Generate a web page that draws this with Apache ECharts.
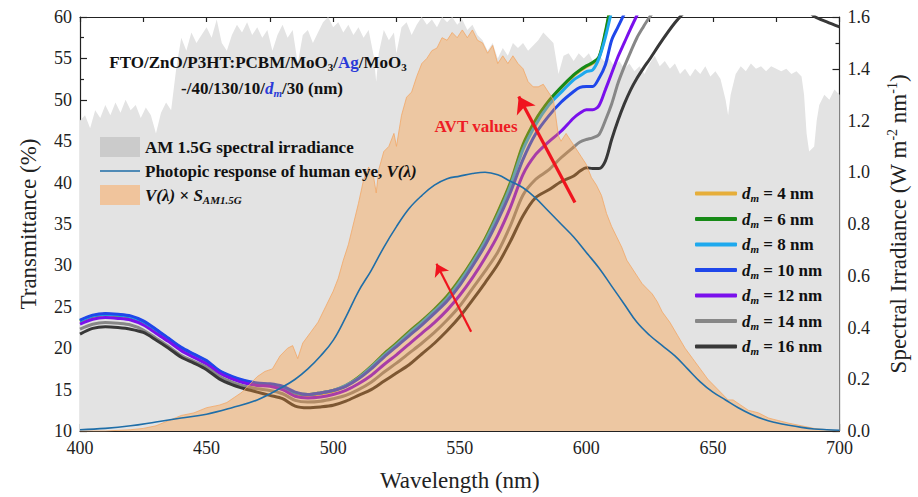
<!DOCTYPE html>
<html>
<head>
<meta charset="utf-8">
<script src="https://cdn.jsdelivr.net/npm/echarts@6/dist/echarts.min.js"></script>
<style>
html,body{margin:0;padding:0;background:#fff;}
#chart{width:918px;height:497px;}
</style>
</head>
<body>
<div id="chart"></div>
<script>
// ---------- DATA ----------
// AM 1.5G spectral irradiance (W m^-2 nm^-1), right axis
const lamS = [400,402,404,406,408,410,412,414,416,418,420,422,424,426,428,430,432,434,436,438,440,442,444,446,448,450,452,454,456,458,460,462,464,466,468,470,472,474,476,478,480,482,484,486,488,490,492,494,496,498,500,502,504,506,508,510,512,514,516,517,518,520,522,524,525,527,529,531,533,535,537,539,541,543,545,547,549,551,553,555,557,559,561,563,565,567,569,571,573,575,577,579,581,583,585,587,589,591,593,595,597,599,601,603,605,607,609,611,613,615,617,619,621,623,625,627,629,631,633,635,637,639,641,643,645,647,649,651,653,655,656,657,659,661,663,665,667,669,671,673,675,677,679,681,683,685,686,687,688,690,691,692,694,696,698,700];
const irradiance = [1.20,1.22,1.17,1.24,1.21,1.26,1.22,1.27,1.23,1.28,1.24,1.26,1.21,1.25,1.22,1.15,1.23,1.27,1.24,1.40,1.52,1.47,1.54,1.50,1.53,1.56,1.52,1.59,1.50,1.47,1.53,1.57,1.54,1.58,1.53,1.56,1.52,1.55,1.47,1.53,1.57,1.52,1.55,1.42,1.53,1.55,1.50,1.54,1.58,1.60,1.56,1.58,1.54,1.57,1.53,1.56,1.52,1.55,1.45,1.35,1.46,1.55,1.51,1.54,1.46,1.56,1.58,1.53,1.57,1.60,1.57,1.59,1.56,1.60,1.58,1.60,1.57,1.59,1.55,1.57,1.53,1.51,1.47,1.50,1.44,1.48,1.45,1.50,1.48,1.50,1.47,1.49,1.51,1.54,1.52,1.50,1.38,1.45,1.46,1.43,1.46,1.44,1.46,1.42,1.45,1.43,1.44,1.41,1.43,1.40,1.42,1.39,1.41,1.38,1.42,1.45,1.41,1.43,1.40,1.42,1.38,1.40,1.37,1.40,1.38,1.41,1.37,1.39,1.36,1.28,1.22,1.30,1.38,1.41,1.39,1.42,1.40,1.41,1.39,1.41,1.40,1.39,1.40,1.38,1.39,1.37,1.30,1.15,1.08,1.10,1.20,1.26,1.30,1.28,1.32,1.30];

// V(lambda) x S_AM1.5G, right axis
const lamVS = [400,410,420,425,430,435,440,445,450,455,458,461,464,467,470,473,476,479,482,484,486,488,491,494,497,500,502,504,506,508,510,512,514,516,517,518,520,522,524,525,527,529,531,533,535,537,539,541,543,545,547,549,551,553,555,557,559,561,563,565,567,569,571,573,575,577,579,581,583,585,587,589,590,592,594,596,598,600,602,604,606,608,610,612,614,616,618,620,622,624,626,628,630,633,636,639,642,645,648,651,654,656,658,661,664,668,672,676,680,685,690,695,700];
const vTimesS = [0.0,0.0,0.005,0.01,0.02,0.04,0.06,0.07,0.09,0.10,0.11,0.13,0.15,0.18,0.21,0.23,0.24,0.29,0.32,0.33,0.28,0.34,0.38,0.42,0.48,0.54,0.59,0.66,0.72,0.80,0.88,0.97,1.02,0.98,0.92,1.01,1.08,1.10,1.15,1.10,1.22,1.29,1.31,1.37,1.42,1.44,1.47,1.48,1.52,1.51,1.54,1.52,1.55,1.52,1.55,1.51,1.50,1.46,1.49,1.42,1.45,1.42,1.45,1.42,1.40,1.35,1.33,1.33,1.34,1.31,1.28,1.14,1.12,1.15,1.12,1.09,1.06,1.03,0.98,0.95,0.91,0.84,0.79,0.75,0.71,0.66,0.63,0.60,0.57,0.55,0.53,0.50,0.46,0.42,0.37,0.32,0.28,0.24,0.20,0.17,0.14,0.12,0.12,0.10,0.08,0.07,0.05,0.04,0.03,0.02,0.01,0.005,0.0];

// Photopic response V(lambda), right axis
const lamV = [400,410,420,430,440,450,460,470,480,485,490,495,500,505,510,515,520,525,530,535,540,545,550,555,560,565,570,575,580,585,590,595,600,605,610,615,620,625,630,635,640,645,650,655,660,665,670,675,680,685,690,695,700];
const photopic = [0.005,0.01,0.02,0.035,0.05,0.065,0.09,0.12,0.17,0.20,0.24,0.29,0.35,0.44,0.54,0.62,0.71,0.79,0.86,0.91,0.95,0.975,0.985,0.995,1.0,0.99,0.965,0.94,0.90,0.85,0.80,0.75,0.69,0.63,0.56,0.49,0.42,0.37,0.33,0.29,0.24,0.19,0.15,0.12,0.09,0.065,0.045,0.032,0.022,0.014,0.008,0.005,0.003];

// Transmittance (%) for each Ag thickness d_m, left axis
const lamT = [400,405,410,415,420,425,430,435,440,445,450,455,460,465,470,475,480,485,490,495,500,505,510,515,520,525,530,535,540,545,550,555,560,565,570,575,580,585,590,595,597.5,600,602.5,605,607.5,610,612.5,615,617.5,620,622.5,625,630,635,640,645,650,655,660,665,670,675,680,685,690,695,700];
const N = null;
const T4  = [23.2,23.8,24.0,23.9,23.7,23.1,22.1,21.0,19.9,19.1,18.3,17.1,16.4,15.9,15.6,15.5,15.2,14.5,14.3,14.5,14.8,15.4,16.4,17.7,19.2,20.5,21.9,23.2,24.6,26.2,28.2,30.5,33.1,36.3,39.9,44.4,47.4,49.7,51.4,52.9,53.5,54.0,54.4,55.1,58.0,61.8,64.8,N,N,N,N,N,N,N,N,N,N,N,N,N,N,N,N,N,N,N,N];
const T6  = [23.3,23.9,24.1,24.0,23.8,23.2,22.2,21.1,20.0,19.2,18.4,17.2,16.5,16.0,15.7,15.6,15.3,14.6,14.4,14.6,14.9,15.5,16.5,17.8,19.3,20.6,22.0,23.3,24.7,26.3,28.3,30.6,33.2,36.4,40.0,44.6,47.6,49.8,51.5,53.0,53.6,54.1,54.5,55.2,58.2,62.0,65.0,N,N,N,N,N,N,N,N,N,N,N,N,N,N,N,N,N,N,N,N];
const T8  = [23.3,23.9,24.1,24.0,23.8,23.2,22.2,21.1,20.0,19.2,18.4,17.2,16.5,16.0,15.7,15.6,15.3,14.6,14.4,14.6,14.9,15.5,16.4,17.7,19.1,20.4,21.8,23.1,24.5,26.0,28.0,30.3,32.9,36.0,39.6,44.0,47.0,49.3,50.9,52.4,52.9,53.4,53.6,55.0,57.5,60.7,63.5,N,N,N,N,N,N,N,N,N,N,N,N,N,N,N,N,N,N,N,N];
const T10 = [23.4,24.0,24.2,24.1,23.9,23.3,22.3,21.2,20.1,19.3,18.5,17.3,16.6,16.1,15.8,15.7,15.4,14.7,14.4,14.6,14.9,15.4,16.3,17.5,18.9,20.2,21.5,22.8,24.2,25.7,27.6,29.9,32.4,35.4,38.8,42.8,45.9,48.0,49.7,51.0,51.5,51.6,51.6,52.6,54.2,57.2,58.8,60.4,62.0,N,N,N,N,N,N,N,N,N,N,N,N,N,N,N,N,N,N];
const T12 = [22.9,23.5,23.7,23.6,23.4,22.8,21.8,20.8,19.7,18.9,18.1,17.0,16.3,15.8,15.5,15.4,15.0,14.2,14.0,14.1,14.4,14.9,15.7,16.7,18.0,19.2,20.5,21.8,23.1,24.6,26.4,28.5,30.9,33.6,37.0,41.0,43.4,44.9,46.2,47.8,48.4,48.8,48.8,49.3,51.2,53.2,55.2,56.9,58.6,60.2,61.8,N,N,N,N,N,N,N,N,N,N,N,N,N,N,N,N];
const T14 = [22.3,22.9,23.1,23.0,22.8,22.2,21.2,20.2,19.1,18.4,17.7,16.6,15.9,15.4,15.1,14.9,14.5,13.7,13.5,13.6,13.9,14.3,15.0,15.9,17.1,18.2,19.4,20.6,21.9,23.4,25.1,27.2,29.3,31.6,34.8,38.5,40.4,41.5,43.0,44.3,44.9,45.2,45.4,45.8,47.5,49.5,52.0,54.0,55.8,57.5,58.8,60.0,62.0,63.5,N,N,N,N,N,N,N,N,N,N,N,N,N];
const T16 = [21.7,22.4,22.6,22.5,22.3,21.9,21.0,20.0,18.9,18.2,17.4,16.3,15.6,15.1,14.7,14.3,13.9,13.0,12.8,12.9,13.1,13.6,14.3,15.0,16.0,17.0,18.0,19.3,20.6,22.1,23.8,25.8,27.9,30.1,32.9,36.0,38.2,39.1,40.1,40.8,41.4,41.8,41.7,41.7,42.6,45.2,47.5,49.5,51.2,52.6,53.8,54.9,57.2,59.3,61.0,62.5,63.5,64.2,64.4,64.3,64.0,63.5,62.7,61.6,60.1,59.4,58.8];

const thicknesses = [4, 6, 8, 10, 12, 14, 16];
const transSeries = [T4, T6, T8, T10, T12, T14, T16];
const transColors = ['#E6AE3A', '#178A17', '#1EA9EE', '#1F47EA', '#7A10EC', '#878787', '#383838'];

// Annotation arrows (data coordinates: wavelength, transmittance)
const arrowBig = [[595.5, 37.6], [573.3, 50.4]];
const arrowSmall = [[554.5, 22.0], [540.8, 30.2]];

// ---------- BUILD ----------
const pairs = (xs, ys) => xs.map((x, i) => [x, ys[i]]);
const SERIF = 'Liberation Serif';
const nameS = 'AM 1.5G spectral irradiance';
const nameV = 'Photopic response of human eye, V(λ)';
const nameVS = 'V(λ) × S_AM1.5G';
const dmName = d => 'd_m = ' + d + ' nm';
// line-shaped legend icon inside a 40x20 box
const lineIcon = 'path://M0,0L0.01,0M0,9.2L40,9.2L40,10.8L0,10.8ZM0,20L0.01,20';

const series = [];
series.push({
  name: nameS, type: 'line', xAxisIndex: 0, yAxisIndex: 1, z: 1,
  data: pairs(lamS, irradiance), symbol: 'none', showSymbol: false,
  lineStyle: {width: 0, color: '#e3e3e3'},
  itemStyle: {color: '#cbcbcb'},
  areaStyle: {color: '#e3e3e3', opacity: 1}
});
thicknesses.forEach((d, i) => {
  series.push({
    name: dmName(d), type: 'line', xAxisIndex: 0, yAxisIndex: 0, z: 2,
    data: pairs(lamT, transSeries[i]), symbol: 'none', showSymbol: false,
    smooth: 0.3, connectNulls: false,
    lineStyle: {width: 3, color: transColors[i]},
    itemStyle: {color: transColors[i]}
  });
});
series.push({
  name: nameVS, type: 'line', xAxisIndex: 0, yAxisIndex: 1, z: 3,
  data: pairs(lamVS, vTimesS), symbol: 'none', showSymbol: false,
  lineStyle: {width: 1, color: '#f2a766', opacity: 0.8},
  itemStyle: {color: '#f0c49c'},
  areaStyle: {color: '#ff9228', opacity: 0.35}
});
series.push({
  name: nameV, type: 'line', xAxisIndex: 0, yAxisIndex: 1, z: 4,
  data: pairs(lamV, photopic), symbol: 'none', showSymbol: false, smooth: 0.4,
  lineStyle: {width: 1.6, color: '#1f6ea8'},
  itemStyle: {color: '#1f6ea8'}
});
series.push({
  name: 'arrows', type: 'line', xAxisIndex: 0, yAxisIndex: 0, z: 5, data: [],
  markLine: {
    silent: true, animation: false, symbol: ['none', 'arrow'],
    label: {show: false},
    data: [
      [{coord: arrowBig[0], symbolSize: 16, lineStyle: {color: '#f0141e', width: 3.2, type: 'solid'}},
       {coord: arrowBig[1], symbolSize: 16}],
      [{coord: arrowSmall[0], symbolSize: 12, lineStyle: {color: '#f0141e', width: 2.2, type: 'solid'}},
       {coord: arrowSmall[1], symbolSize: 12}]
    ]
  }
});

const legendRich = {
  b: {fontFamily: SERIF, fontWeight: 'bold', fontSize: 17, color: '#111', lineHeight: 20},
  i: {fontFamily: SERIF, fontWeight: 'bold', fontStyle: 'italic', fontSize: 17, color: '#111', lineHeight: 20},
  sub: {fontFamily: SERIF, fontWeight: 'bold', fontStyle: 'italic', fontSize: 11, color: '#111', lineHeight: 10, verticalAlign: 'bottom'}
};

const option = {
  animation: false,
  backgroundColor: '#ffffff',
  grid: {left: 80, right: 71, top: 17, bottom: 64, containLabel: false},
  xAxis: [
    {
      type: 'value', min: 400, max: 700, interval: 50, position: 'bottom',
      axisLine: {show: true, lineStyle: {color: '#222', width: 1.2}},
      axisTick: {show: true, inside: true, length: 7, lineStyle: {color: '#222', width: 1.2}},
      minorTick: {show: true, splitNumber: 2, length: 4, lineStyle: {color: '#222', width: 1.2}},
      axisLabel: {fontFamily: SERIF, fontSize: 18, color: '#222', margin: 8},
      splitLine: {show: false},
      name: 'Wavelength (nm)', nameLocation: 'middle', nameGap: 38,
      nameTextStyle: {fontFamily: SERIF, fontSize: 23, color: '#222'}
    },
    {
      type: 'value', min: 400, max: 700, interval: 25, position: 'top',
      axisLine: {show: true, lineStyle: {color: '#222', width: 1.2}},
      axisTick: {show: true, inside: true, length: 5, lineStyle: {color: '#222', width: 1.2}},
      axisLabel: {show: false}, splitLine: {show: false}
    }
  ],
  yAxis: [
    {
      type: 'value', min: 10, max: 60, interval: 5, position: 'left',
      axisLine: {show: true, lineStyle: {color: '#222', width: 1.2}},
      axisTick: {show: true, inside: true, length: 7, lineStyle: {color: '#222', width: 1.2}},
      minorTick: {show: true, splitNumber: 2, length: 4, lineStyle: {color: '#222', width: 1.2}},
      axisLabel: {fontFamily: SERIF, fontSize: 18, color: '#222', margin: 8},
      splitLine: {show: false},
      name: 'Transmittance (%)', nameLocation: 'middle', nameRotate: 90, nameGap: 40,
      nameTextStyle: {fontFamily: SERIF, fontSize: 23, color: '#222'}
    },
    {
      type: 'value', min: 0, max: 1.6, interval: 0.2, position: 'right',
      axisLine: {show: true, lineStyle: {color: '#222', width: 1.2}},
      axisTick: {show: true, inside: true, length: 7, lineStyle: {color: '#222', width: 1.2}},
      minorTick: {show: true, splitNumber: 2, length: 4, lineStyle: {color: '#222', width: 1.2}},
      axisLabel: {fontFamily: SERIF, fontSize: 18, color: '#222', margin: 8, formatter: v => v.toFixed(1)},
      splitLine: {show: false},
      name: '{n|Spectral Irradiance (W m}{sup|-2}{n| nm}{sup|-1}{n|)}',
      nameLocation: 'middle', nameRotate: 90, nameGap: 46,
      nameTextStyle: {
        fontFamily: SERIF, fontSize: 23, color: '#222',
        rich: {
          n: {fontFamily: SERIF, fontSize: 23, color: '#222', lineHeight: 26},
          sup: {fontFamily: SERIF, fontSize: 14, color: '#222', lineHeight: 12, verticalAlign: 'top'}
        }
      }
    }
  ],
  legend: [
    {
      orient: 'vertical', left: 100, top: 137, itemWidth: 40, itemHeight: 20, itemGap: 4,
      padding: 0, selectedMode: false,
      data: [
        {name: nameS, icon: 'rect', itemStyle: {color: '#cbcbcb', borderWidth: 0}},
        {name: nameV, icon: lineIcon, itemStyle: {color: '#1f6ea8', borderWidth: 0}},
        {name: nameVS, icon: 'rect', itemStyle: {color: '#f0c49c', borderWidth: 0}}
      ],
      formatter: function (name) {
        if (name === nameS) return '{b|AM 1.5G spectral irradiance}';
        if (name === nameV) return '{b|Photopic response of human eye, }{i|V(λ)}';
        return '{i|V(λ)}{b| × }{i|S}{sub|AM1.5G}';
      },
      textStyle: {fontFamily: SERIF, fontWeight: 'bold', fontSize: 17, color: '#111', rich: legendRich}
    },
    {
      orient: 'vertical', left: 695, top: 185, itemWidth: 42, itemHeight: 4, itemGap: 7,
      padding: 0, selectedMode: false, icon: 'roundRect',
      data: thicknesses.map((d, i) => ({name: dmName(d), icon: 'roundRect', itemStyle: {color: transColors[i], borderWidth: 0}})),
      formatter: function (name) {
        const d = name.replace('d_m = ', '').replace(' nm', '');
        return '{i|d}{sub|m}{b| = ' + d + ' nm}';
      },
      textStyle: {fontFamily: SERIF, fontWeight: 'bold', fontSize: 17, color: '#111', rich: legendRich}
    }
  ],
  graphic: [
    {
      type: 'text', x: 258, y: 62, z: 100,
      style: {
        text: '{a|FTO/ZnO/P3HT:PCBM/MoO}{s|3}{a|/}{ag|Ag}{a|/MoO}{s|3}',
        align: 'center', verticalAlign: 'middle',
        rich: {
          a: {fontFamily: SERIF, fontWeight: 'bold', fontSize: 17, fill: '#111', lineHeight: 20},
          ag: {fontFamily: SERIF, fontWeight: 'bold', fontSize: 17, fill: '#2a3ad8', lineHeight: 20},
          s: {fontFamily: SERIF, fontWeight: 'bold', fontSize: 11, fill: '#111', lineHeight: 10, verticalAlign: 'bottom'}
        }
      }
    },
    {
      type: 'text', x: 262, y: 88, z: 100,
      style: {
        text: '{a|-/40/130/10/}{d|d}{s|m}{a|/30 (nm)}',
        align: 'center', verticalAlign: 'middle',
        rich: {
          a: {fontFamily: SERIF, fontWeight: 'bold', fontSize: 17, fill: '#111', lineHeight: 20},
          d: {fontFamily: SERIF, fontWeight: 'bold', fontStyle: 'italic', fontSize: 17, fill: '#2a3ad8', lineHeight: 20},
          s: {fontFamily: SERIF, fontWeight: 'bold', fontStyle: 'italic', fontSize: 11, fill: '#2a3ad8', lineHeight: 10, verticalAlign: 'bottom'}
        }
      }
    },
    {
      type: 'text', x: 476, y: 126, z: 100,
      style: {
        text: 'AVT values', align: 'center', verticalAlign: 'middle',
        fontFamily: SERIF, fontWeight: 'bold', fontSize: 17, fill: '#ee1c25'
      }
    }
  ],
  series: series
};

const chart = echarts.init(document.getElementById('chart'), null, {renderer: 'svg', width: 918, height: 497});
chart.setOption(option);
</script>
</body>
</html>
